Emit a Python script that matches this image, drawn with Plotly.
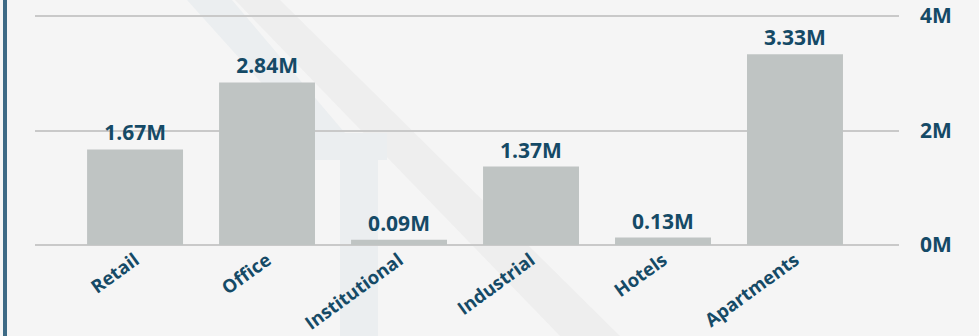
import plotly.graph_objects as go

categories = ["Retail", "Office", "Institutional", "Industrial", "Hotels", "Apartments"]
values = [1.67, 2.84, 0.09, 1.37, 0.13, 3.33]  # millions
labels = ["1.67M", "2.84M", "0.09M", "1.37M", "0.13M", "3.33M"]
tick_vals = [0, 2, 4]
tick_text = ["0M", "2M", "4M"]

DARK = "#154a66"
FONT = "Open Sans"

fig = go.Figure(go.Bar(
    x=categories, y=values, text=labels, textposition="outside",
    marker=dict(color="#bfc4c3", line=dict(width=0)),
    textfont=dict(family=FONT, size=21, color=DARK, weight="bold"),
    cliponaxis=False, width=0.727,
))

W, H = 979, 336
L, R, T, B = 35, 80, 13, 88
pw, ph = W - L - R, H - T - B
pad_u = 3 / 57.25

fig.update_layout(
    width=W, height=H,
    margin=dict(l=L, r=R, t=T, b=B, pad=0),
    paper_bgcolor="#f5f5f5", plot_bgcolor="rgba(0,0,0,0)",
    showlegend=False,
    font=dict(family=FONT, color=DARK),
    xaxis=dict(range=[-0.758, 5.788], tickangle=-36, showgrid=False, zeroline=False,
               showline=False, ticks="", automargin=False, ticklabelstandoff=-3,
               tickfont=dict(family=FONT, size=18.5, color=DARK, weight="bold")),
    yaxis=dict(range=[-pad_u, 4 + pad_u], side="right", tickvals=tick_vals, ticktext=tick_text,
               showgrid=True, gridcolor="#c9c9c9", gridwidth=2, zeroline=False,
               showline=False, ticks="", ticklabelstandoff=20, automargin=False,
               tickfont=dict(family=FONT, size=21, color=DARK, weight="bold")),
)


def px_path(pts):
    # convert page pixel coords to paper coords
    seg = []
    for i, (x, y) in enumerate(pts):
        xp = (x - L) / pw
        yp = (T + ph - y) / ph
        seg.append(("M" if i == 0 else "L") + f"{xp:.5f},{yp:.5f}")
    return " ".join(seg) + " Z"


# faint background watermark bands
fig.add_shape(type="path", xref="paper", yref="paper", layer="below",
              path=px_path([(235, 0), (280, 0), (620, 336), (560, 336)]),
              fillcolor="#eeeeee", line=dict(width=0))
fig.add_shape(type="path", xref="paper", yref="paper", layer="below",
              path=px_path([(187, 0), (232, 0), (345, 133), (387, 133), (387, 160),
                            (378, 160), (378, 336), (340, 336), (340, 160),
                            (313, 160), (313, 140)]),
              fillcolor="#ebeef0", line=dict(width=0))

# left accent border
x_px = 5
fig.add_shape(type="line", xref="paper", yref="paper",
              x0=(x_px - L) / pw, x1=(x_px - L) / pw,
              y0=(T + ph - H) / ph, y1=(T + ph) / ph,
              line=dict(color="#3d6a85", width=4), layer="above")

fig.write_html("out.html", config={"displayModeBar": False},
               post_script="document.body.style.margin='0';document.body.style.background='#f5f5f5';")
